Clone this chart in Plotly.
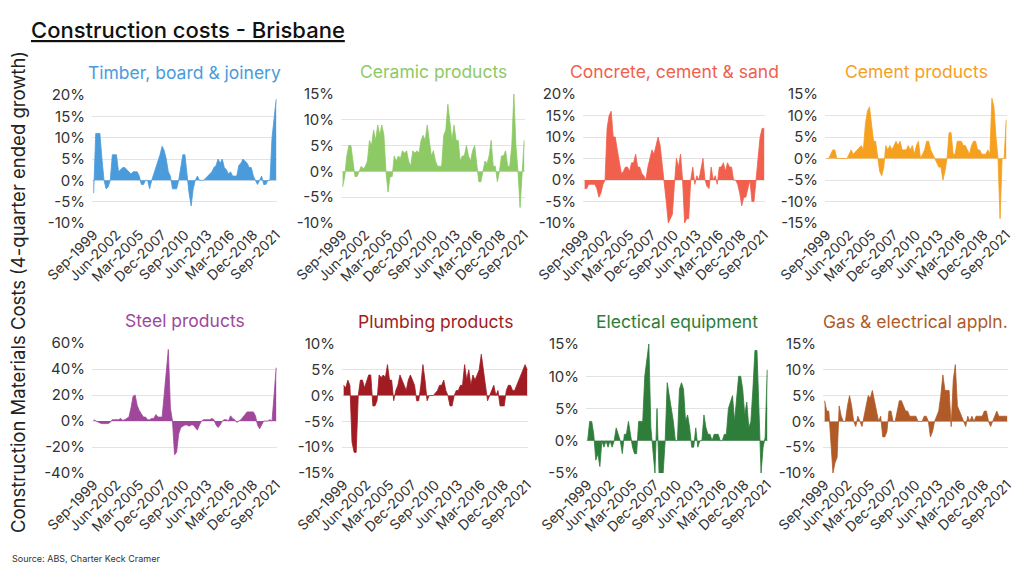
import plotly.graph_objects as go

months = ["Mar", "Jun", "Sep", "Dec"]
quarters = []
y, m = 1999, 2
while len(quarters) < 89:
    quarters.append(f"{months[m]}-{y}")
    m += 1
    if m == 4:
        m = 0
        y += 1

tick_labels = ["Sep-1999", "Jun-2002", "Mar-2005", "Dec-2007", "Sep-2010",
               "Jun-2013", "Mar-2016", "Dec-2018", "Sep-2021"]

timber = [-3, 11, 11, 11, 5, 0, -2, -1.5, 0, 6, 6, 6, 2, 2.5, 3, 3, 2.5, 2, 1.5, 2,
          2, 2, 1, -1, -1, 0, 0, -2, 0, 1.5, 3, 4, 6, 8, 7, 5, 2, 1, -2, -2,
          -2, 0, 3, 6, 6, 1, -3, -6, -2, 0, 1, 0, 0, 0, 0.5, 1, 1.5, 2, 3, 3.5,
          5, 4, 5, 3, 2.5, 1.5, 2, 1, 1, 1, 3.5, 4, 5, 4.5, 4, 3, 3, 1, 0, -1,
          0, 1, -1, -1, 0, 0, 10, 15, 19]
ceramic = [-3, -1, 3, 5, 5, 2, -1, -1, 0, 1, 0.5, 1, 2, 6, 5, 8, 6, 9, 7, 9,
           7, 0, -4, -1, -1, 3, 2, 3, 2.5, 4, 3.5, 4, 2, 1, 4, 3.5, 4, 3.5, 6, 7,
           6, 9, 6, 3, 4, 2, 1, 1, 1, 7, 8, 13, 9, 6, 9, 6, 6, 2, 3, 3,
           5, 3, 2, 4, 5, 2, -2, -2, 0, 2, 1.5, 3, 6, 1, 1, -2, 0, 3, 3, 4,
           1, 1, 5, 15, 5, 0, -7, 0, 6]
concrete = [-2, -2, -1, -1, -1, -1, -2, -4, -3, -1, 0, 12, 15, 16, 10, 10, 7, 4, 1.5, 2,
            3, 3, 2, 4, 4, 6, 3, 3, 1.5, 1, 0, 3, 5, 7, 6, 8, 10, 8, 4, 0,
            -5, -10, -9, -8, -1, 5, 3, 6, 0, -10, -9, -9, 0, 3, -1, 1, 0, 3, 5, 0,
            -1.5, -2, 3, 0, 1, -1, 3, 3, 4, 2, 4, 3, 3, 0, 0, -1, -3, -6, -4, -4,
            -2, 0, -5, -5, 0, 6, 10, 12, 12]
cement = [0, 0, 1, 2, 2, 0, 0, 0, 0, 0, 0, 1, 2, 1, 1.5, 2, 2.5, 3, 2, 8,
          11, 12, 8, 4, 4, 0, -3, -4, -2, 3, 2, 3, 2, 3, 4, 3, 4, 2, 2, 2,
          3, 2, 3, 1, 3, 4, 0, 1, 2, 4, 4, 2, 1, 0, -1, -2, -2, -5, -3, 0,
          6, 6, 1, 1, 4, 4, 4, 3, 3, 2, 1, 3, 4, 4, 2, 2, 1, 1, 1, 2,
          1, 14, 12, 5, 0, -14, 0, 0, 9]
steel = [1, 0, -1, -1.5, -2, -2, -2, -2, -1, 1, 1, 1, 1, 2, 0.5, 1, 2, 3, 10, 19,
         20, 12, 8, 5, 3, 3, 1, 1, 2, 2, 5, 3, 3, 3, 20, 40, 55, 10, 0, -26,
         -24, -10, -5, -4, -3, -3, -4, -3, -3, -5, -7, -3, 0, 1, 1, 1, 1, 2, 1, -3,
         -5, -3, 0, 1, 1, 0, 4, 2, 1, -1, 0, 1, 3, 5, 7, 7, 7, 7, 4, -3,
         -6, -3, 0, 0, 0, 1, 0, 20, 41]
plumbing = [2, 1.5, 3, 2, -9, -11, -11, 0, 3, 3, 1.5, 3, 4, 4, -2, -2, -1, 4, 3.5, 4,
            3.5, 6, 3, 3, -1, 1, 2, 4, 3, 2, 1, 3, 4, 3, 2, -1, -1, 2, 6, 3,
            -1, 0, 0, 0, 0.5, 1, 2, 2, 3, 1, 0, -2, -2, 0, 1, 1, 2, 2, 6, 3,
            5, 2, 4, 3, 4, 5, 8, 5, 2, -1, 0, 1, 2, 0, 1, -2, -2, -2, 1, 2,
            2, 1, 1, 2, 3, 4, 5, 6, 5]
electrical = [0, 3, 3, 1, -3, -2, -4, 0, -1, 0, -1, 0, -1, 0, 2, 1, 0, -2, 1, 1,
              3, 1, -1, -2, -2, 3, 3, 3, 10, 13, 15, 2, -1, -5, 5, -5, -5, -5, 0, 9,
              7, 5, 3, 0, 0, 8, 9, 8, 3, 4, 2, -1, -1, 2, -1, 0, 0, 4, 2, 1,
              1, 0, 1, 1, 1, 0, 0, 1, 1, 5, 6, 7, 3, 7, 10, 10, 8, 4, 6, 2,
              3, 8, 14, 14, 5, -5, -1, 0.5, 11]
gas = [4, 2, 2, -5, -10, -8, -7, 3, 1, 0, 0, 3, 5, 3, 0, -1, 1, 0, -1, 1,
       3, 5, 4.5, 6, 4, 2, 0, 1, -3, -3, -2, 2, 2, 0, 0, 2, 4, 4, 3, 2,
       2, 1, 1, 1, 1, 0, 0, 0, 1, 1, 0, -3, -2, 0, 1, 2, 5, 9, 6, 6,
       6, -1, 8, 11, 3, 2, 1, 0, -1, 1, 0, 1, 0, 1, 1, 1, 1, 2, 2, 0,
       -1, 0, 1, 2, 1, 1, 1, 1, 1]

names = ["Timber, board & joinery", "Ceramic products", "Concrete, cement & sand",
         "Cement products", "Steel products", "Plumbing products",
         "Electical equipment", "Gas & electrical appln."]
series = [timber, ceramic, concrete, cement, steel, plumbing, electrical, gas]
colors = ["#4A9BDC", "#8DC965", "#F0604D", "#F5A01F",
          "#A0479C", "#A11C22", "#2E7D3A", "#B05A28"]
yranges = [(-10, 20, 5), (-10, 15, 5), (-10, 20, 5), (-15, 15, 5),
           (-40, 60, 20), (-15, 10, 5), (-5, 15, 5), (-10, 15, 5)]
# panel pixel boxes on the page (x0, x1, ytop, ybottom)
boxes = [(92, 277, 95, 223), (341, 525, 94, 223), (583, 765, 94, 223), (825, 1007, 94, 223),
         (92, 277, 343, 473), (342, 528, 344, 473), (586, 768, 344, 473), (823, 1008, 344, 473)]

# the page body adds an 8px margin; figure is sized so it fits the window
OFF = 8
W, H = 1024 - 2 * OFF, 576 - 2 * OFF


def px(x):
    return (x - OFF) / W


def py(yv):
    return 1 - (yv - OFF) / H


FONT = "Inter"
fig = go.Figure()
xs = list(range(len(quarters)))
tickvals = [quarters.index(t) for t in tick_labels]

annotations = []
for k in range(8):
    ax = "" if k == 0 else str(k + 1)
    x0, x1, yt, yb = boxes[k]
    fig.add_trace(go.Scatter(
        x=xs, y=series[k], mode="lines", fill="tozeroy",
        line=dict(color=colors[k], width=0.8), fillcolor=colors[k],
        xaxis="x" + ax, yaxis="y" + ax, showlegend=False,
        hovertext=quarters))
    lo, hi, st = yranges[k]
    yt_vals = list(range(lo, hi + 1, st))
    fig.layout["xaxis" + ax] = dict(
        domain=[px(x0), px(x1)], anchor="y" + ax, range=[-0.8, 88.4],
        tickmode="array", tickvals=tickvals, ticktext=tick_labels,
        tickangle=-45, showgrid=False, zeroline=False, showline=False,
        automargin=False,
        tickfont=dict(family=FONT, size=14, color="#333333"), ticks="")
    fig.layout["yaxis" + ax] = dict(
        domain=[py(yb), py(yt)], anchor="x" + ax, range=[lo, hi],
        tickmode="array", tickvals=yt_vals, ticktext=[f"{v}%" for v in yt_vals],
        showgrid=True, gridcolor="#E3E3E3", gridwidth=1,
        zeroline=False, showline=False, ticklabelstandoff=6, automargin=False,
        tickfont=dict(family=FONT, size=15, color="#333333"), ticks="")
    annotations.append(dict(
        text=names[k], x=px((x0 + x1) / 2), y=py(yt - 23),
        xref="paper", yref="paper", xanchor="center", yanchor="middle",
        showarrow=False, font=dict(family=FONT, size=17.5, color=colors[k])))

annotations.append(dict(
    text="<u>Construction costs - Brisbane</u>", x=px(29), y=py(30),
    xref="paper", yref="paper", xanchor="left", yanchor="middle",
    showarrow=False, font=dict(family=FONT, size=22, color="#111111", weight=500)))
annotations.append(dict(
    text="Construction Materials Costs (4-quarter ended growth)",
    x=px(18), y=py(292), xref="paper", yref="paper", textangle=-90,
    xanchor="center", yanchor="middle", showarrow=False,
    font=dict(family=FONT, size=18.5, color="#222222")))
annotations.append(dict(
    text="Source: ABS, Charter Keck Cramer", x=px(10), y=py(566),
    xref="paper", yref="paper", xanchor="left", yanchor="bottom",
    showarrow=False, font=dict(family=FONT, size=9, color="#333333")))

fig.update_layout(
    width=W, height=H, margin=dict(l=0, r=0, t=0, b=0, autoexpand=False),
    paper_bgcolor="white", plot_bgcolor="white",
    annotations=annotations, font=dict(family=FONT))

fig.write_html("out.html")
